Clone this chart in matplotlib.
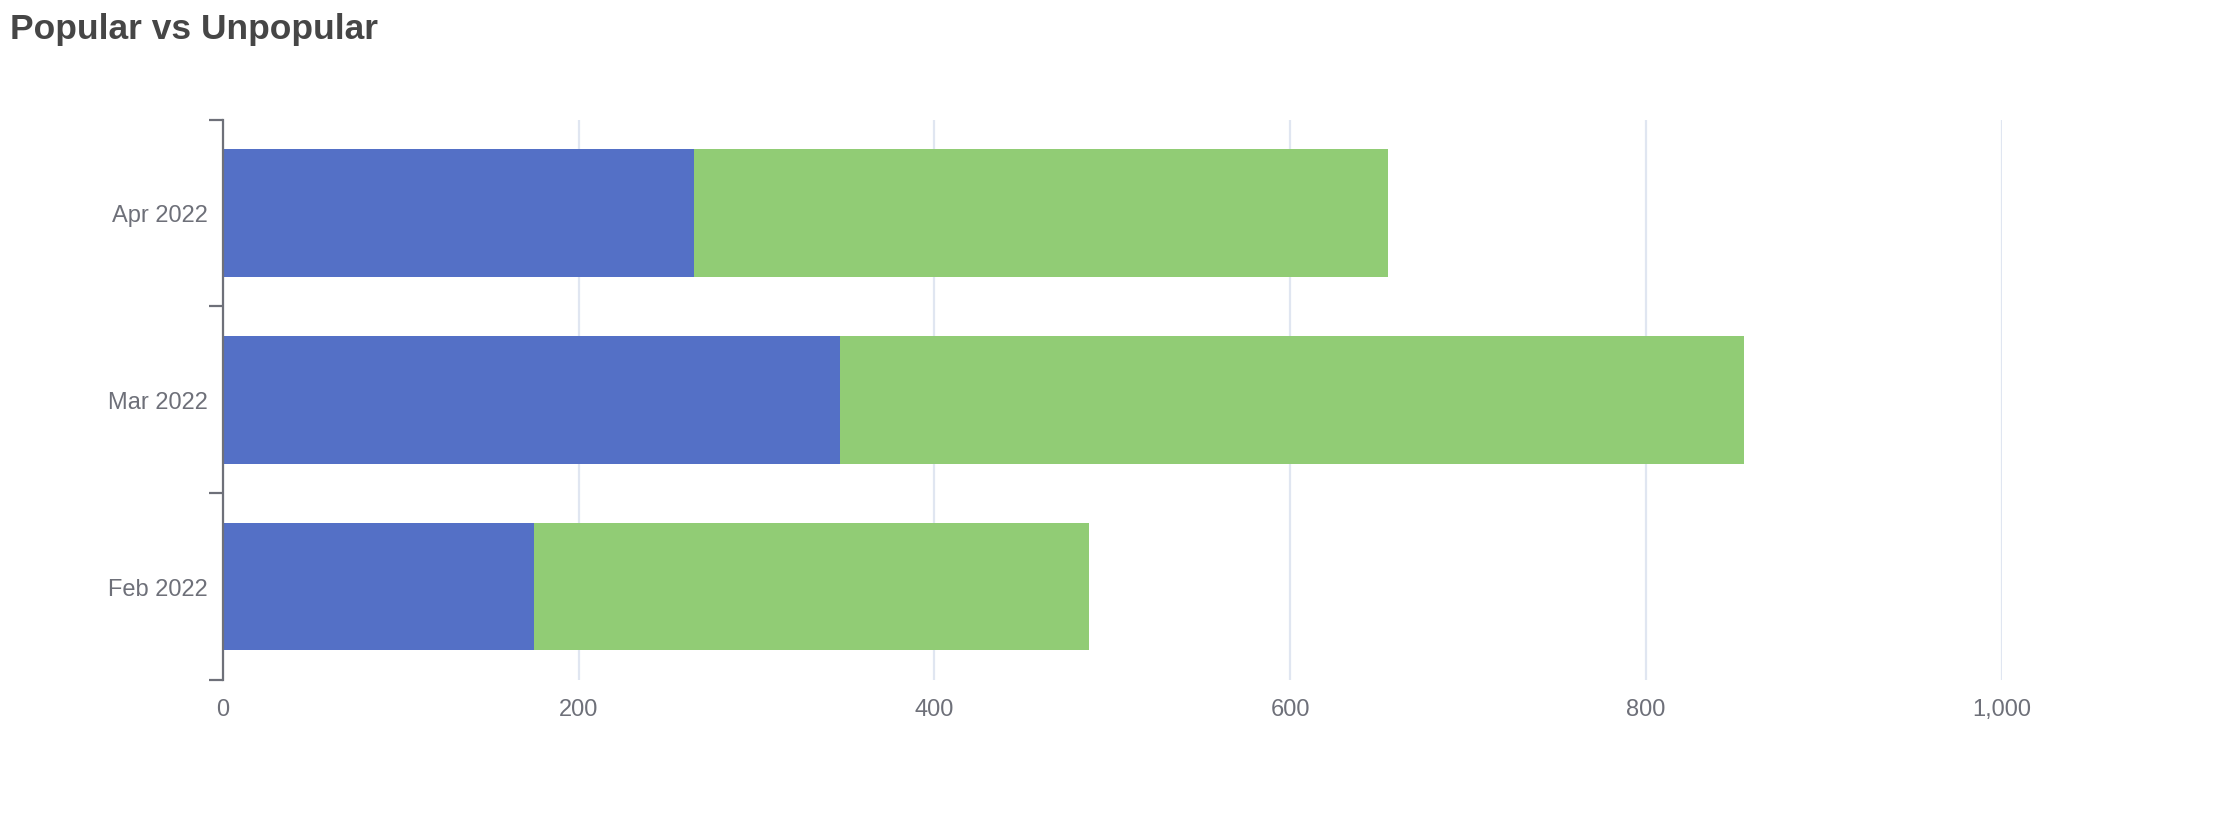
import matplotlib.pyplot as plt
import numpy as np

# dados
months = ['Feb 2022', 'Mar 2022', 'Apr 2022']
popular = [175, 347, 265]
unpopular = [312, 508, 390]

plt.rcParams['font.family'] = ['Liberation Sans', 'DejaVu Sans']

fig = plt.figure(figsize=(22.24, 8.2), dpi=100)
ax = fig.add_axes([0.1002, 0.1695, 0.9 - 0.1002, 0.853 - 0.1695])

y = np.arange(len(months))
h = 0.684
ax.barh(y, popular, height=h, color='#5470c6', zorder=3)
ax.barh(y, unpopular, left=popular, height=h, color='#91cc75', zorder=3)

ax.set_xlim(0, 1000)
ax.set_ylim(-0.5, len(months) - 0.5)
ax.set_xticks([0, 200, 400, 600, 800, 1000])
ax.set_xticklabels(['0', '200', '400', '600', '800', '1,000'])
ax.set_yticks(y)
ax.set_yticklabels(months)
ax.set_yticks(np.arange(-0.5, len(months)), minor=True)

ax.grid(axis='x', color='#e0e6f1', linewidth=1.6, zorder=0)
for s in ['top', 'right', 'bottom']:
    ax.spines[s].set_visible(False)
ax.spines['left'].set_color('#6e7079')
ax.spines['left'].set_linewidth(1.6)
ax.spines['left'].set_zorder(4)

ax.tick_params(axis='x', length=0, pad=13, labelsize=17, labelcolor='#6e7079')
ax.tick_params(axis='y', which='major', length=0, pad=11, labelsize=17, labelcolor='#6e7079')
ax.tick_params(axis='y', which='minor', length=10, width=1.6, color='#6e7079')

fig.text(0.0045, 0.964, 'Popular vs Unpopular', fontsize=25.5, fontweight='bold',
         color='#464646', va='center', ha='left')

fig.savefig('out.png', dpi=100)
